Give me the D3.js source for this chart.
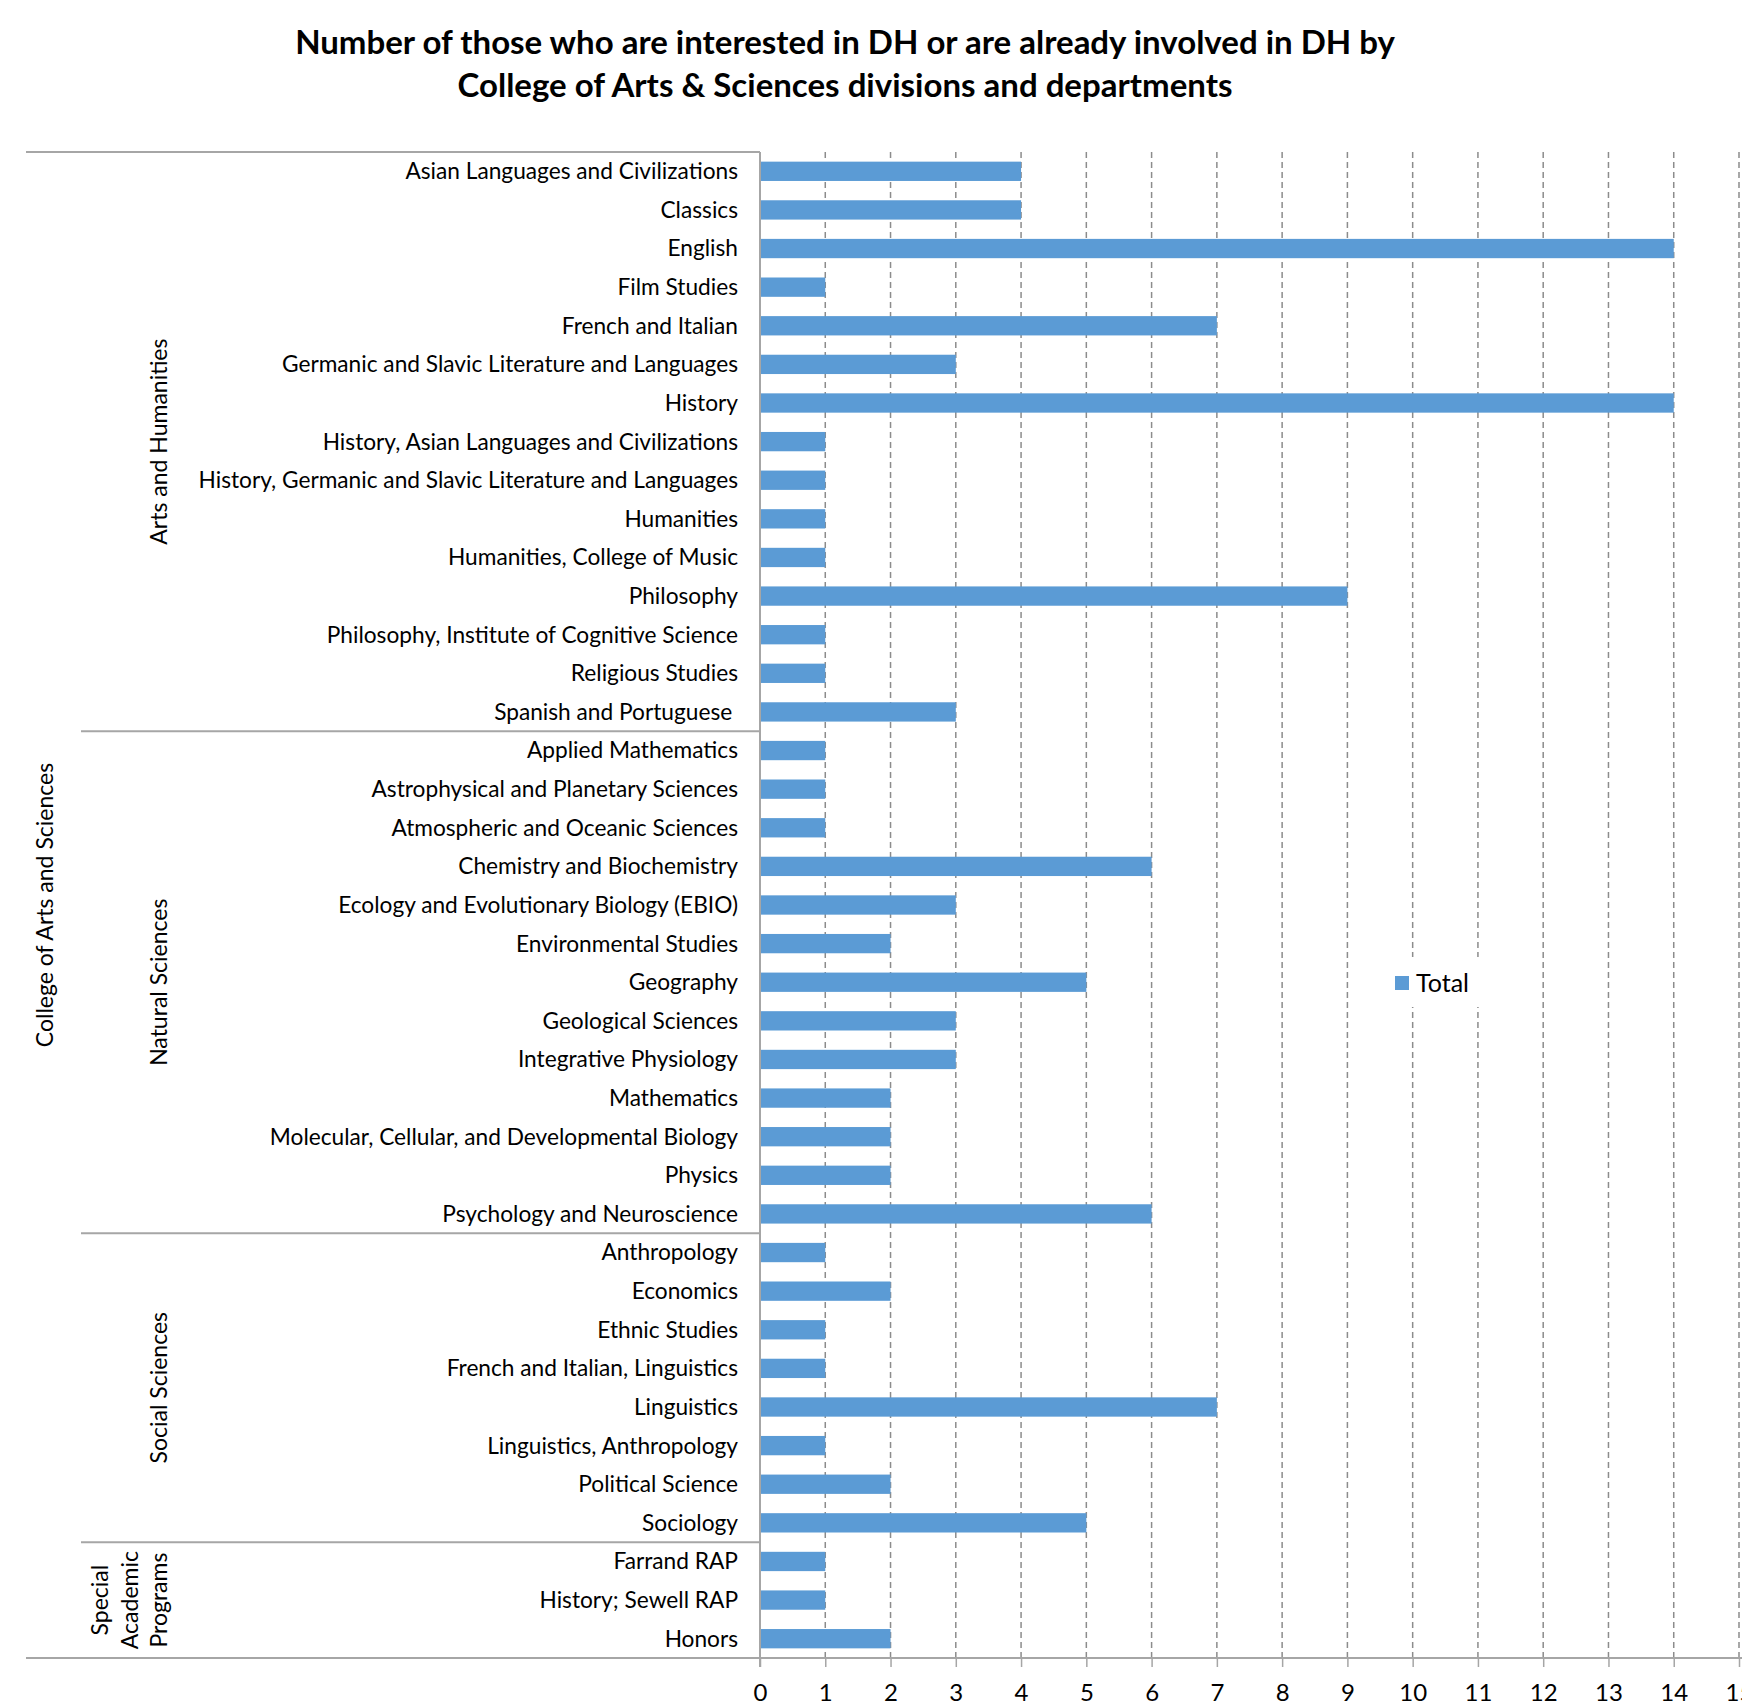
<!DOCTYPE html>
<html>
<head>
<meta charset="utf-8">
<script src="https://cdn.jsdelivr.net/npm/d3@7"></script>
<style>
  body { margin: 0; background: #fff; }
  text { font-family: Lato, "Noto Sans", sans-serif; fill: #000; }
</style>
</head>
<body>
<div id="chart"></div>
<script>
// departments, top to bottom
const departments = [
  "Asian Languages and Civilizations", "Classics", "English", "Film Studies",
  "French and Italian", "Germanic and Slavic Literature and Languages", "History",
  "History, Asian Languages and Civilizations", "History, Germanic and Slavic Literature and Languages",
  "Humanities", "Humanities, College of Music", "Philosophy",
  "Philosophy, Institute of Cognitive Science", "Religious Studies", "Spanish and Portuguese ",
  "Applied Mathematics", "Astrophysical and Planetary Sciences", "Atmospheric and Oceanic Sciences",
  "Chemistry and Biochemistry", "Ecology and Evolutionary Biology (EBIO)", "Environmental Studies",
  "Geography", "Geological Sciences", "Integrative Physiology", "Mathematics",
  "Molecular, Cellular, and Developmental Biology", "Physics", "Psychology and Neuroscience",
  "Anthropology", "Economics", "Ethnic Studies", "French and Italian, Linguistics",
  "Linguistics", "Linguistics, Anthropology", "Political Science", "Sociology",
  "Farrand RAP", "History; Sewell RAP", "Honors"
];

const totals = [
  4, 4, 14, 1, 7, 3, 14, 1, 1, 1, 1, 9, 1, 1, 3,
  1, 1, 1, 6, 3, 2, 5, 3, 3, 2, 2, 2, 6,
  1, 2, 1, 1, 7, 1, 2, 5,
  1, 1, 2
];

// divisions: name lines and how many departments each has
const divisions = [
  { lines: ["Arts and Humanities"], count: 15 },
  { lines: ["Natural Sciences"], count: 13 },
  { lines: ["Social Sciences"], count: 8 },
  { lines: ["Special", "Academic", "Programs"], count: 3 }
];
const college = "College of Arts and Sciences";

const xTicks = d3.range(0, 16);
const seriesName = "Total";

const W = 1742, H = 1705;
const plotLeft = 760, plotRight = 1739, plotTop = 152, plotBottom = 1658;
const barColor = "#5b9bd5", lineColor = "#a6a6a6";

const svg = d3.select("#chart").append("svg")
  .attr("width", W).attr("height", H);

// title
svg.append("text")
  .attr("x", 845).attr("y", 54)
  .attr("text-anchor", "middle")
  .style("font-size", "33px").style("font-weight", "bold")
  .text("Number of those who are interested in DH or are already involved in DH by");
svg.append("text")
  .attr("x", 845).attr("y", 97)
  .attr("text-anchor", "middle")
  .style("font-size", "33px").style("font-weight", "bold")
  .text("College of Arts & Sciences divisions and departments");

let x = d3.scaleLinear().domain([0, 15]).range([plotLeft, plotRight]);
let y = d3.scaleBand().domain(departments).range([plotTop, plotBottom])
  .paddingInner(0.5).paddingOuter(0.25);
let step = y.step();

// dashed gridlines
svg.append("g")
  .selectAll("line")
  .data(xTicks.slice(1))
  .enter()
  .append("line")
  .attr("x1", (d) => x(d)).attr("x2", (d) => x(d))
  .attr("y1", plotTop).attr("y2", plotBottom)
  .attr("stroke", "#8c8c8c")
  .attr("stroke-width", 1.5)
  .attr("stroke-dasharray", "6,4");

// bars
svg.append("g")
  .selectAll("rect")
  .data(departments)
  .enter()
  .append("rect")
  .attr("x", x(0))
  .attr("y", (d) => y(d))
  .attr("width", (d, i) => x(totals[i]) - x(0))
  .attr("height", y.bandwidth())
  .attr("fill", barColor);

// bottom axis
let xAxis = d3.axisBottom(x).tickValues(xTicks).tickSize(9).tickPadding(17);
let ax = svg.append("g")
  .attr("transform", "translate(0," + plotBottom + ")")
  .call(xAxis);
ax.select(".domain").attr("stroke", lineColor).attr("stroke-width", 2)
  .attr("d", "M" + plotLeft + ",0H" + W);
ax.selectAll(".tick line").attr("stroke", lineColor).attr("stroke-width", 1.5);
ax.selectAll(".tick text")
  .style("font-size", "24px")
  .style("font-family", "Lato, 'Noto Sans', sans-serif")
  .attr("fill", "#000");

// left axis line
svg.append("line")
  .attr("x1", plotLeft).attr("x2", plotLeft)
  .attr("y1", plotTop).attr("y2", plotBottom + 9)
  .attr("stroke", lineColor).attr("stroke-width", 2);

// department labels
svg.append("g")
  .selectAll("text")
  .data(departments)
  .enter()
  .append("text")
  .attr("x", plotLeft - 22)
  .attr("y", (d) => y(d) + y.bandwidth() / 2)
  .attr("dy", "0.35em")
  .attr("text-anchor", "end")
  .style("font-size", "22.7px")
  .style("white-space", "pre")
  .text((d) => d);

// hierarchy lines and division labels
svg.append("line")
  .attr("x1", 26).attr("x2", plotLeft).attr("y1", plotTop).attr("y2", plotTop)
  .attr("stroke", lineColor).attr("stroke-width", 2);
svg.append("line")
  .attr("x1", 26).attr("x2", plotLeft).attr("y1", plotBottom).attr("y2", plotBottom)
  .attr("stroke", lineColor).attr("stroke-width", 2);

let start = 0;
divisions.forEach((div, k) => {
  let y0 = plotTop + start * step;
  let y1 = plotTop + (start + div.count) * step;
  if (k > 0) {
    svg.append("line")
      .attr("x1", 81).attr("x2", plotLeft).attr("y1", y0).attr("y2", y0)
      .attr("stroke", lineColor).attr("stroke-width", 2);
  }
  let cy = (y0 + y1) / 2;
  let n = div.lines.length;
  div.lines.forEach((ln, j) => {
    let cx = 159 - (n - 1 - j) * 29.5;
    svg.append("text")
      .attr("transform", "translate(" + cx + "," + cy + ") rotate(-90)")
      .attr("text-anchor", "middle")
      .attr("dy", "0.35em")
      .style("font-size", "23px")
      .text(ln);
  });
  start += div.count;
});

svg.append("text")
  .attr("transform", "translate(45," + (plotTop + plotBottom) / 2 + ") rotate(-90)")
  .attr("text-anchor", "middle")
  .attr("dy", "0.35em")
  .style("font-size", "23px")
  .text(college);

// legend
let lg = svg.append("g");
lg.append("rect")
  .attr("x", 1385).attr("y", 957).attr("width", 108).attr("height", 50)
  .attr("fill", "#fff");
lg.append("rect")
  .attr("x", 1395).attr("y", 976).attr("width", 14).attr("height", 14)
  .attr("fill", barColor);
lg.append("text")
  .attr("x", 1416).attr("y", 983)
  .attr("dy", "0.35em")
  .style("font-size", "25px")
  .attr("fill", "#222")
  .text(seriesName);
</script>
</body>
</html>
